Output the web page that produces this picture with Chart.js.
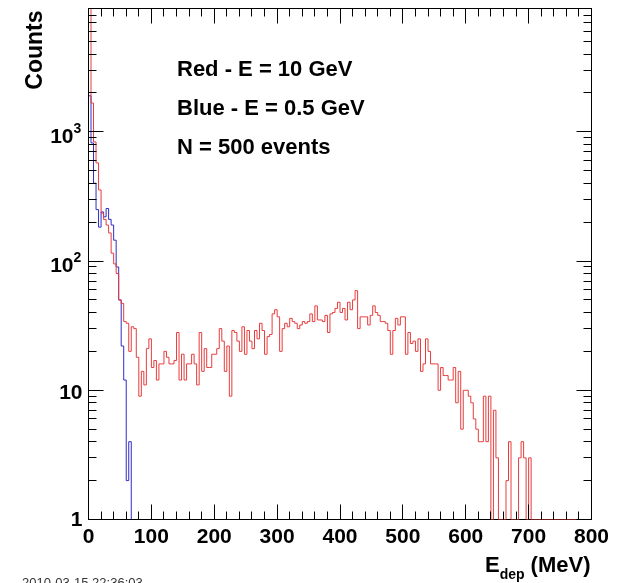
<!DOCTYPE html>
<html>
<head>
<meta charset="utf-8">
<script src="https://cdn.jsdelivr.net/npm/chart.js@4.4.0/dist/chart.umd.min.js"></script>
<style>
  html, body { margin: 0; padding: 0; background: #fff; }
  canvas { display: block; }
</style>
</head>
<body>
<canvas id="edepChart" width="621" height="583"></canvas>
<script>
// histogram: 200 bins of 4 MeV from 0 to 800 MeV
const binWidth = 4;

const redCounts = [
  12000, 1670, 835, 575, 355, 235, 210, 190, 165, 115,
  95, 80, 50, 47, 34, 33, 20, 31, 30, 18,
  9, 14, 11, 21, 25, 15, 17, 12, 16, 16,
  20, 18, 16, 16, 17, 28, 12, 19, 12, 16,
  16, 19, 16, 11, 28, 14, 21, 15, 15, 19,
  19, 21, 30, 24, 14, 22, 9, 29, 28, 24,
  20, 31, 19, 29, 24, 21, 29, 25, 33, 29,
  19, 26, 27, 39, 42, 37, 20, 30, 33, 31,
  36, 34, 33, 30, 32, 34, 33, 34, 39, 34,
  45, 35, 35, 34, 38, 28, 39, 40, 43, 48,
  40, 43, 35, 48, 42, 50, 59, 30, 37, 37,
  37, 32, 38, 45, 40, 38, 34, 34, 33, 29,
  19, 29, 36, 32, 37, 37, 19, 28, 23, 24,
  20, 25, 14, 16, 25, 20, 16, 16, 16, 10,
  15, 13, 13, 12, 12, 15, 8, 14, 5, 10,
  10, 9, 8, 6, 5, 4, 4, 9, 4, 9,
  0, 7, 3, 0, 0, 0, 2, 4, 0, 0,
  0, 3, 4, 3, 0, 3, 0, 0, 0, 0,
  0, 0, 0, 0, 0, 0, 0, 0, 0, 0,
  0, 0, 0, 0, 0, 0, 0, 0, 0, 0
];

const blueCounts = [
  1900, 820, 400, 250, 183, 240, 220, 255, 210, 190,
  145, 90, 50, 22, 12, 2, 4, 0, 0, 0
].concat(new Array(180).fill(0));

const xTickValues = [0, 100, 200, 300, 400, 500, 600, 700, 800];
const xTickLabels = ['0', '100', '200', '300', '400', '500', '600', '700', '800'];
const yTickValues = [1, 10, 100, 1000];
const yTickLabels = ['1', '10', '10^2', '10^3'];

const notes = ['Red - E = 10 GeV', 'Blue - E = 0.5 GeV', 'N = 500 events'];
const yTitle = 'Counts';
const dateStamp = '2010-03-15 22:36:03';

const yMin = 1;
const yMax = 9000;
const FONT = '"Liberation Sans", Arial, Helvetica, sans-serif';

// points at the left edge of each bin, stepped so each value holds across its bin
// (empty bins sit on the axis minimum, as on a log plot)
const toSteps = (counts) => {
  const pts = counts.map((c, i) => ({ x: i * binWidth, y: Math.max(c, yMin) }));
  const end = counts.length * binWidth;
  pts.push({ x: end, y: Math.max(counts[counts.length - 1], yMin) });
  pts.push({ x: end, y: yMin });
  return pts;
};

// ROOT-like frame, inward ticks and labels
const rootAxes = {
  id: 'rootAxes',
  // chart.js draws the last dataset first: blue (index 1), then frame, then red on top
  afterDatasetDraw(chart, args) {
    if (args.index !== 1) return;
    const { ctx, chartArea: a } = chart;
    ctx.save();
    ctx.strokeStyle = '#000';
    ctx.lineWidth = 1;
    ctx.strokeRect(a.left, a.top, a.right - a.left, a.bottom - a.top);
    ctx.restore();
  },
  afterDatasetsDraw(chart) {
    const { ctx, chartArea: a, scales } = chart;
    const xs = scales.x, ys = scales.y;
    ctx.save();
    ctx.strokeStyle = '#000';
    ctx.lineWidth = 1;
    ctx.beginPath();
    for (let v = 0; v <= 800; v += 20) {
      const px = Math.floor(xs.getPixelForValue(v)) + 0.5;
      const len = v % 100 === 0 ? 15 : 8;
      ctx.moveTo(px, a.bottom); ctx.lineTo(px, a.bottom - len);
      ctx.moveTo(px, a.top); ctx.lineTo(px, a.top + len);
    }
    for (let d = 1; d <= 1000; d *= 10) {
      for (let m = 1; m <= 9; m++) {
        const v = m * d;
        if (v > yMax) continue;
        const py = Math.floor(ys.getPixelForValue(v)) + 0.5;
        const len = m === 1 ? 15 : 8;
        ctx.moveTo(a.left, py); ctx.lineTo(a.left + len, py);
        ctx.moveTo(a.right, py); ctx.lineTo(a.right - len, py);
      }
    }
    ctx.stroke();

    ctx.fillStyle = '#000';
    // x tick labels
    ctx.font = 'bold 21px ' + FONT;
    ctx.textAlign = 'center';
    ctx.textBaseline = 'alphabetic';
    xTickValues.forEach((v, i) => {
      ctx.fillText(xTickLabels[i], xs.getPixelForValue(v), a.bottom + 23);
    });
    // y tick labels
    yTickValues.forEach((v, i) => {
      const py = ys.getPixelForValue(v);
      const [base, exp] = yTickLabels[i].split('^');
      ctx.textAlign = 'right';
      ctx.font = 'bold 21px ' + FONT;
      if (exp) {
        ctx.fillText(base, a.left - 15, py + 11);
        ctx.textAlign = 'left';
        ctx.font = 'bold 14px ' + FONT;
        ctx.fillText(exp, a.left - 15, py + 1);
      } else {
        ctx.fillText(base, a.left - 6, py + (v === 1 ? 6 : 9));
      }
    });

    // y title
    ctx.save();
    ctx.translate(42, a.top + 2);
    ctx.rotate(-Math.PI / 2);
    ctx.font = 'bold 23px ' + FONT;
    ctx.textAlign = 'right';
    ctx.fillText(yTitle, 0, 0);
    ctx.restore();

    // x title: E_dep (MeV), right aligned
    ctx.textAlign = 'right';
    ctx.font = 'bold 22px ' + FONT;
    const tail = '(MeV)';
    const right = a.right - 1;
    ctx.fillText(tail, right, 572);
    let x = right - ctx.measureText(tail).width - 6;
    ctx.font = 'bold 14px ' + FONT;
    ctx.fillText('dep', x, 579);
    x -= ctx.measureText('dep').width;
    ctx.font = 'bold 22px ' + FONT;
    ctx.fillText('E', x, 572);

    // notes
    ctx.textAlign = 'left';
    ctx.font = 'bold 22px ' + FONT;
    notes.forEach((t, i) => ctx.fillText(t, 177, 76 + i * 39));

    // date stamp, cut by the bottom edge
    ctx.font = '13px ' + FONT;
    ctx.fillStyle = '#333';
    ctx.fillText(dateStamp, 22, 587);
    ctx.restore();
  }
};

new Chart(document.getElementById('edepChart'), {
  type: 'line',
  data: {
    datasets: [
      {
        label: 'E = 10 GeV',
        data: toSteps(redCounts),
        borderColor: 'rgb(232, 60, 60)',
        borderWidth: 1,
        stepped: true,
        pointRadius: 0,
        fill: false,
      },
      {
        label: 'E = 0.5 GeV',
        data: toSteps(blueCounts),
        borderColor: 'rgb(45, 45, 200)',
        borderWidth: 1,
        stepped: true,
        pointRadius: 0,
        fill: false,
      },
    ],
  },
  options: {
    responsive: false,
    animation: false,
    parsing: false,
    layout: { padding: { left: 88.5, right: 29.5, top: 8.5, bottom: 63.5 } },
    scales: {
      x: { type: 'linear', min: 0, max: 800, display: false },
      y: { type: 'logarithmic', min: yMin, max: yMax, display: false },
    },
    plugins: {
      legend: { display: false },
      tooltip: { enabled: false },
    },
  },
  plugins: [rootAxes],
});
</script>
</body>
</html>
